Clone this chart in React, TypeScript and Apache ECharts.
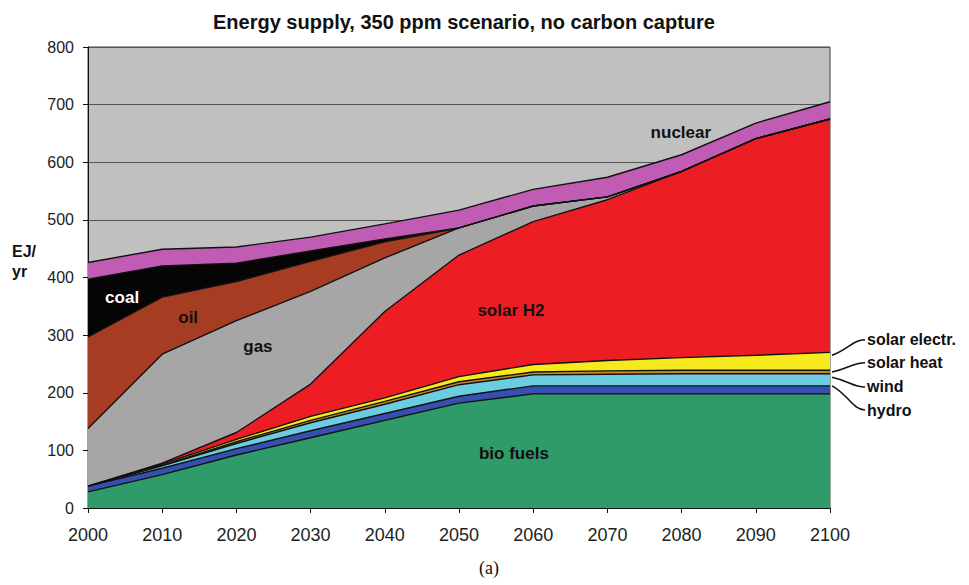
import { useEffect, useRef } from "react";
import * as echarts from "echarts";

const years = [2000, 2010, 2020, 2030, 2040, 2050, 2060, 2070, 2080, 2090, 2100];

// EJ/yr per source, stacked bottom to top
const bioFuels = [28, 58, 92, 122, 152, 182, 198, 198, 198, 198, 198];
const hydro = [10, 11, 11, 12, 12, 12, 14, 14, 14, 14, 14];
const wind = [0, 4, 9, 14, 16, 20, 19, 20, 21, 21, 21];
const solarHeat = [0, 1, 3, 4, 5, 5, 5, 6, 6, 6, 6];
const solarElectr = [0, 2, 4, 7, 6, 9, 13, 18, 22, 26, 31];
const solarH2 = [0, 2, 12, 56, 150, 211, 248, 279, 323, 376, 405];
const gas = [100, 189, 194, 161, 93, 47, 27, 5, 0, 0, 0];
const oil = [159, 99, 68, 52, 28, 0, 0, 0, 0, 0, 0];
const coal = [100, 54, 32, 18, 5, 0, 0, 0, 0, 0, 0];
const nuclear = [29, 29, 28, 24, 26, 31, 29, 34, 29, 27, 30];

const layers = [
  { name: "bio fuels", data: bioFuels, color: "#2e9b68" },
  { name: "hydro", data: hydro, color: "#3550b0" },
  { name: "wind", data: wind, color: "#6ccde0" },
  { name: "solar heat", data: solarHeat, color: "#c8882a" },
  { name: "solar electr.", data: solarElectr, color: "#f7ea1c" },
  { name: "solar H2", data: solarH2, color: "#ec1e24" },
  { name: "gas", data: gas, color: "#a6a6a6" },
  { name: "oil", data: oil, color: "#a63d22" },
  { name: "coal", data: coal, color: "#050505" },
  { name: "nuclear", data: nuclear, color: "#c05cb4" },
];

const FONT = "'Liberation Sans', Arial, sans-serif";

export default function App() {
  const ref = useRef<HTMLDivElement>(null);

  useEffect(() => {
    const chart = echarts.init(ref.current!, null, { renderer: "svg" });

    chart.setOption({
      animation: false,
      backgroundColor: "#ffffff",
      title: {
        text: "Energy supply, 350 ppm scenario, no carbon capture",
        left: 459,
        top: 7,
        textAlign: "center",
        textStyle: { fontFamily: FONT, fontSize: 20, fontWeight: "bold", color: "#111" },
      },
      grid: {
        left: 88,
        right: 139,
        top: 47,
        bottom: 77,
        show: true,
        backgroundColor: "#c0c0c0",
        borderColor: "#444",
        borderWidth: 1,
      },
      xAxis: {
        type: "category",
        data: years.map(String),
        boundaryGap: false,
        axisLine: { lineStyle: { color: "#111", width: 1 } },
        axisTick: { show: true, length: 5, lineStyle: { color: "#111" } },
        splitLine: { show: false },
        axisLabel: { fontFamily: FONT, fontSize: 18, color: "#222", margin: 18 },
      },
      yAxis: {
        type: "value",
        min: 0,
        max: 800,
        interval: 100,
        axisLine: { show: true, lineStyle: { color: "#111", width: 1 } },
        axisTick: { show: true, length: 5, lineStyle: { color: "#111" } },
        splitLine: { lineStyle: { color: "#555", width: 1 } },
        axisLabel: { fontFamily: FONT, fontSize: 16, color: "#222", margin: 14 },
      },
      series: layers.map((l) => ({
        name: l.name,
        type: "line",
        stack: "total",
        data: l.data,
        symbol: "none",
        lineStyle: { color: "#111", width: 1.4 },
        itemStyle: { color: l.color },
        areaStyle: { color: l.color, opacity: 1 },
      })),
    });

    const last = years.length - 1;
    const toPx = (idx: number, v: number) =>
      chart.convertToPixel({ gridIndex: 0 }, [idx, v]) as number[];
    const x0px = toPx(0, 0)[0];
    const x1px = toPx(last, 0)[0];
    // pixel position for an arbitrary (fractional) year and value
    const px = (year: number, v: number) => {
      const t = (year - years[0]) / (years[last] - years[0]);
      return [x0px + t * (x1px - x0px), toPx(0, v)[1]];
    };

    // stacked top of each layer in the final year
    const tops: number[] = [];
    layers.reduce((acc, l) => {
      const t = acc + l.data[last];
      tops.push(t);
      return t;
    }, 0);
    const bottomOf = (i: number) => (i === 0 ? 0 : tops[i - 1]);

    const areaLabel = (text: string, x: number, y: number, fill: string) => {
      const p = px(x, y);
      return {
        type: "text",
        z: 100,
        x: p[0],
        y: p[1],
        style: {
          text,
          fill,
          font: `bold 17px ${FONT}`,
          textAlign: "center",
          textVerticalAlign: "middle",
        },
      };
    };

    const callouts = [
      { idx: 4, anchor: tops[4] - 5, labelValue: 292 },
      { idx: 3, anchor: (bottomOf(3) + tops[3]) / 2, labelValue: 252 },
      { idx: 2, anchor: tops[2] - 6, labelValue: 210 },
      { idx: 1, anchor: tops[1], labelValue: 170 },
    ];

    const calloutGraphics: any[] = [];
    callouts.forEach((c) => {
      const y0 = px(years[last], c.anchor)[1];
      const y1 = px(years[last], c.labelValue)[1];
      const xs = x1px + 2;
      const xe = x1px + 35;
      calloutGraphics.push({
        type: "bezierCurve",
        z: 100,
        shape: {
          x1: xs,
          y1: y0,
          cpx1: xs + 16,
          cpy1: y0 - (y0 - y1) * 0.35,
          cpx2: xe - 12,
          cpy2: y1,
          x2: xe,
          y2: y1,
        },
        style: { stroke: "#111", lineWidth: 1.5, fill: "none" },
      });
      calloutGraphics.push({
        type: "text",
        z: 100,
        x: xe + 2,
        y: y1,
        style: {
          text: layers[c.idx].name,
          fill: "#111",
          font: `bold 16px ${FONT}`,
          textAlign: "left",
          textVerticalAlign: "middle",
        },
      });
    });

    chart.setOption({
      graphic: [
        {
          type: "text",
          z: 100,
          x: 12,
          y: 241,
          style: {
            text: "EJ/\nyr",
            fill: "#111",
            font: `bold 16px ${FONT}`,
            lineHeight: 20,
          },
        },
        areaLabel("coal", 2004.6, 366, "#ffffff"),
        areaLabel("oil", 2013.5, 330, "#111"),
        areaLabel("gas", 2022.9, 280, "#111"),
        areaLabel("solar H2", 2057, 342, "#111"),
        areaLabel("bio fuels", 2057.4, 94, "#111"),
        areaLabel("nuclear", 2079.9, 651, "#111"),
        ...calloutGraphics,
        {
          type: "text",
          z: 100,
          x: 489,
          y: 568,
          style: {
            text: "(a)",
            fill: "#111",
            font: "18px 'Liberation Serif', 'Times New Roman', serif",
            textAlign: "center",
            textVerticalAlign: "middle",
          },
        },
      ],
    });

    return () => chart.dispose();
  }, []);

  return (
    <div
      ref={ref}
      style={{ position: "fixed", left: 0, top: 0, width: 969, height: 585 }}
    />
  );
}
